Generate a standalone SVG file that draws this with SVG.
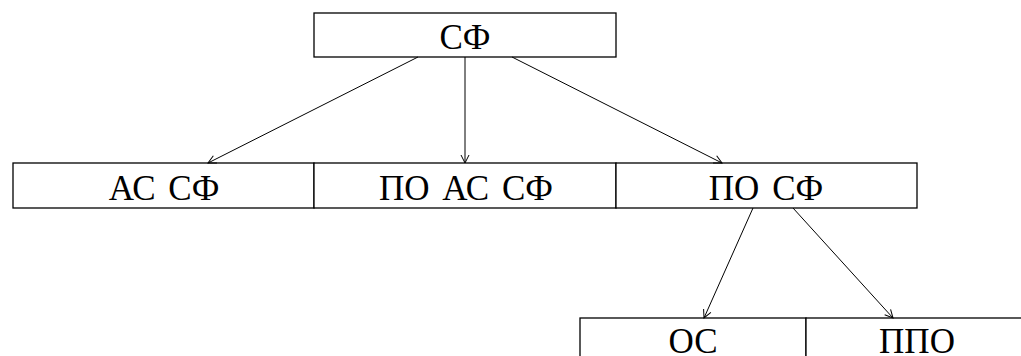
<svg xmlns="http://www.w3.org/2000/svg" width="1021" height="356" viewBox="0 0 1021 356">
<style>
.box{fill:#fff;stroke:#000;stroke-width:1.3}
.t{font-family:"Liberation Serif","Times New Roman",serif;font-size:35px;fill:#000;text-anchor:middle;word-spacing:4px}
.c line{stroke:#000;stroke-width:1}
</style>
<defs>
<marker id="a" markerWidth="12" markerHeight="12" refX="10" refY="5" orient="auto" markerUnits="userSpaceOnUse">
<path d="M2,1 L10,5 L2,9" fill="none" stroke="#000" stroke-width="1"/>
</marker>
</defs>
<rect width="1021" height="356" fill="#fff"/>
<g id="n-sf"><rect class="box" x="314" y="13" width="302" height="44"/><text class="t" x="465" y="49">СФ</text></g>
<g id="n-as-sf"><rect class="box" x="13" y="163" width="301" height="45"/><text class="t" x="164" y="200">АС СФ</text></g>
<g id="n-po-as-sf"><rect class="box" x="314" y="163" width="302" height="45"/><text class="t" x="466" y="200">ПО АС СФ</text></g>
<g id="n-po-sf"><rect class="box" x="616" y="163" width="301" height="45"/><text class="t" x="766" y="200">ПО СФ</text></g>
<g id="n-os"><rect class="box" x="580" y="318" width="226" height="46"/><text class="t" x="693" y="353">ОС</text></g>
<g id="n-ppo"><rect class="box" x="806" y="318" width="226" height="46"/><text class="t" x="917" y="353">ППО</text></g>
<g class="c" id="connectors">
<line x1="418" y1="57" x2="208" y2="163" marker-end="url(#a)"/>
<line x1="465" y1="57" x2="465" y2="163" marker-end="url(#a)"/>
<line x1="512" y1="57" x2="722" y2="163" marker-end="url(#a)"/>
<line x1="753" y1="208" x2="704" y2="318" marker-end="url(#a)"/>
<line x1="793" y1="208" x2="893" y2="318" marker-end="url(#a)"/>
</g>
</svg>
